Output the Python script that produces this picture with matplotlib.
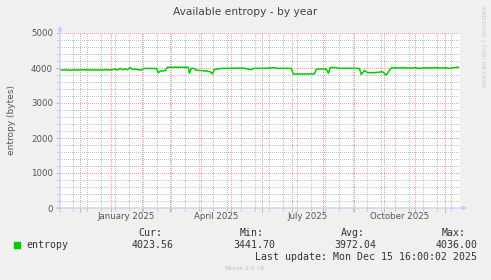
"""Munin-style yearly entropy graph (rrdtool look) rebuilt with matplotlib."""
from datetime import datetime, timedelta

import matplotlib
matplotlib.use("Agg")
import matplotlib.pyplot as plt
import matplotlib.transforms as mtrans
import numpy as np

# data
dates = [
    "2024-11-11", "2024-11-16", "2024-11-22", "2024-11-28", "2024-12-04",
    "2024-12-09", "2024-12-14", "2024-12-20", "2024-12-26", "2024-12-31",
    "2025-01-05", "2025-01-07", "2025-01-10", "2025-01-12", "2025-01-15",
    "2025-01-17", "2025-01-20", "2025-01-22", "2025-01-25", "2025-01-28",
    "2025-01-31", "2025-02-02", "2025-02-08", "2025-02-15", "2025-02-17",
    "2025-02-19", "2025-02-24", "2025-02-26", "2025-03-08", "2025-03-19",
    "2025-03-20", "2025-03-22", "2025-03-25", "2025-03-27", "2025-04-01",
    "2025-04-06", "2025-04-10", "2025-04-12", "2025-04-14", "2025-04-18",
    "2025-04-22", "2025-05-02", "2025-05-10", "2025-05-14", "2025-05-21",
    "2025-05-23", "2025-06-03", "2025-06-13", "2025-06-16", "2025-06-30",
    "2025-07-02", "2025-07-13", "2025-07-23", "2025-07-25", "2025-07-30",
    "2025-08-04", "2025-08-06", "2025-08-08", "2025-08-14", "2025-08-17",
    "2025-08-27", "2025-09-06", "2025-09-08", "2025-09-11", "2025-09-14",
    "2025-09-20", "2025-09-26", "2025-09-29", "2025-10-03", "2025-10-05",
    "2025-10-08", "2025-10-14", "2025-10-20", "2025-10-26", "2025-11-01",
    "2025-11-05", "2025-11-10", "2025-11-15", "2025-11-21", "2025-11-26",
    "2025-12-01", "2025-12-05", "2025-12-10", "2025-12-14",
]
entropy = [
    3940, 3945, 3938, 3942, 3950,
    3940, 3948, 3940, 3950, 3942,
    3965, 3945, 3990, 3950, 3975,
    3950, 4010, 3955, 3970, 3950,
    3945, 3985, 3988, 3985, 3865,
    3910, 3925, 4020, 4022, 4020,
    3850, 3990, 3985, 3935, 3925,
    3915, 3890, 3830, 3960, 3975,
    3990, 3992, 3998, 3990, 3955,
    3990, 3990, 4010, 3990, 3990,
    3830, 3828, 3832, 3965, 3975,
    3970, 3850, 4015, 4010, 3990,
    3992, 3990, 3815, 3930, 3870,
    3865, 3880, 3895, 3800, 3890,
    4005, 4000, 4010, 3995, 4008,
    3990, 4005, 4000, 4012, 3998,
    4005, 3990, 4010, 4023.56,
]
quarter_labels = ["January 2025", "April 2025", "July 2025", "October 2025"]
quarter_dates = ["2025-01-16", "2025-04-16", "2025-07-16", "2025-10-16"]
stat_names = ["Cur:", "Min:", "Avg:", "Max:"]
stat_values = ["4023.56", "3441.70", "3972.04", "4036.00"]

W, H = 491, 280
END = datetime(2025, 12, 15, 16, 0)
START = END - timedelta(days=400)

BG = "#F0F0F0"
MGRID = "#F4A0A0"
GRID = "#C4C4C4"
AXIS = "#C8C8FF"
TXT = "#555555"
LINE = "#00CC00"


def fx(x):
    return x / W


def fy(y):
    return 1 - y / H


fig = plt.figure(figsize=(W / 100, H / 100), dpi=100, facecolor=BG)
ax = fig.add_axes([fx(60), fy(208), fx(400), 175 / H])
ax.set_facecolor("white")

x = np.array(dates, dtype="datetime64[D]")
ax.plot(x, entropy, color=LINE, lw=1.1, zorder=3)

ax.set_xlim(START, END)
ax.set_ylim(0, 5000)

# month major grid, two-weekly minor grid
months = [datetime(2024 + (11 + i) // 12, (11 + i) % 12 + 1, 1) for i in range(13)]
weeks = [datetime(2024, 11, 24) + timedelta(days=14 * i) for i in range(28)]
weeks = [w for w in weeks if w < END]
ax.set_xticks(months)
ax.set_xticks(weeks, minor=True)
ax.set_xticklabels([])
ax.set_yticks(range(0, 5001, 1000))
ax.set_yticks(range(0, 5001, 200), minor=True)
ax.set_yticklabels([str(v) for v in range(0, 5001, 1000)])

ax.grid(which="minor", color=GRID, lw=0.72, ls=(0, (1, 2)), antialiased=False)
ax.grid(which="major", color=MGRID, lw=0.72, ls=(0, (1, 2)), antialiased=False)
ax.set_axisbelow(True)
ax.tick_params(which="major", length=3, width=0.7, color=MGRID,
               labelsize=6.2, labelcolor=TXT, pad=2)
ax.tick_params(which="minor", length=2, width=0.7, color=GRID)
for s in ax.spines.values():
    s.set_visible(False)

trans = mtrans.blended_transform_factory(ax.transData, ax.transAxes)
for lab, d in zip(quarter_labels, quarter_dates):
    ax.text(np.datetime64(d), -0.025, lab, transform=trans, ha="center",
            va="top", fontsize=6.2, color=TXT)

# axis lines with arrow heads
arrow = dict(arrowstyle="-|>", color=AXIS, lw=0.9, mutation_scale=6,
             shrinkA=0, shrinkB=0)
ax.annotate("", xy=(467, H - 208), xytext=(56, H - 208),
            xycoords="figure pixels", textcoords="figure pixels",
            arrowprops=arrow)
ax.annotate("", xy=(60, H - 26), xytext=(60, H - 212),
            xycoords="figure pixels", textcoords="figure pixels",
            arrowprops=arrow)

fig.text(0.5, fy(12), "Available entropy - by year", ha="center",
         va="center", fontsize=7.7, color="#444444")
fig.text(fx(12), fy(120), "entropy (bytes)", rotation=90, ha="center",
         va="center", fontsize=6.5, color=TXT)
fig.text(fx(483), fy(6), "RRDTOOL / TOBI OETIKER", rotation=270,
         ha="center", va="top", fontsize=4.6, color="#C8C8C8")

# legend block
mono = dict(family="DejaVu Sans Mono", fontsize=7.1, color="#333333")
fig.patches.append(plt.Rectangle((fx(14), fy(248)), fx(6), 6 / H,
                                 transform=fig.transFigure, color=LINE))
fig.text(fx(26), fy(245), "entropy", va="center", ha="left", **mono)
for i, (n, v) in enumerate(zip(stat_names, stat_values)):
    right = 174 + i * 101.3
    fig.text(fx(right - 12), fy(233), n, va="center", ha="right", **mono)
    fig.text(fx(right), fy(245), v, va="center", ha="right", **mono)
fig.text(fx(477), fy(257), "Last update: Mon Dec 15 16:00:02 2025",
         va="center", ha="right", **mono)
fig.text(fx(245), fy(268), "Munin 2.0.76", ha="center", va="center",
         fontsize=4.3, color="#BBBBBB")

fig.savefig("out.png", dpi=100, facecolor=BG)
